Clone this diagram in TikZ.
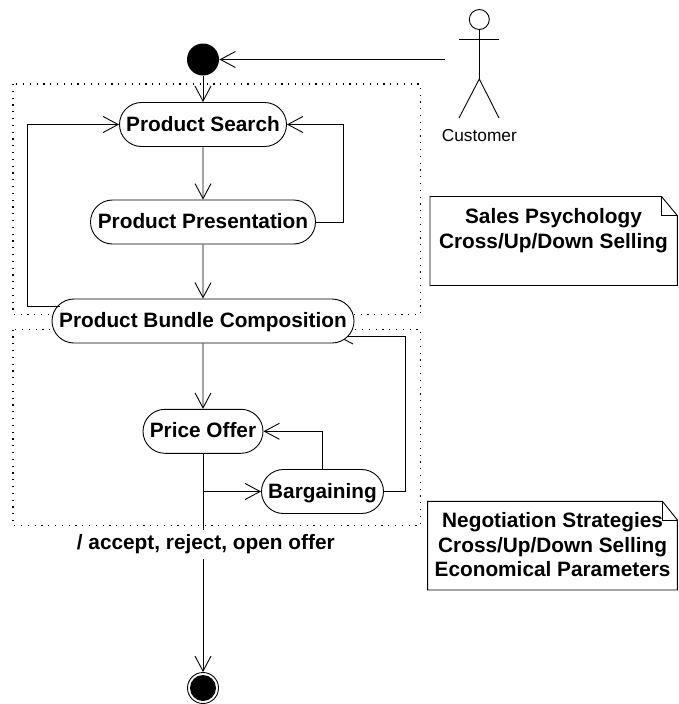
\documentclass[tikz,border=0pt]{standalone}
\usepackage{fontspec}
\setmainfont{Liberation Sans}
\usetikzlibrary{arrows.meta, shapes.misc}
\tikzset{
	activity/.style = {draw, fill = white, rounded rectangle, font = \fontsize{20.8}{24}\selectfont\bfseries, minimum height = 44pt, text height = 16.3pt, text depth = 3.3pt, inner xsep = 0pt, inner ysep = 0pt},
	note/.style = {align = center, font = \fontsize{20.8}{24.5}\selectfont\bfseries, inner sep = 0pt},
	flow/.style = {-{Straight Barb[length = 15pt, width = 16pt]}},
	group/.style = {line width = 1.2pt, dash pattern = on 1.2pt off 5.6pt}
}
\begin{document}
\begin{tikzpicture}[x = 1pt, y = -1pt, line width = 0.9pt]
	\useasboundingbox (0, 0) rectangle (678, 704);
	% groups
	\draw[group] (13, 84) rectangle (420.5, 314.5);
	\draw[group] (13, 329.5) rectangle (420.5, 525.5);
	% activities
	\node[activity, minimum width = 167pt] (search) at (203, 124.5) {Product Search};
	\node[activity, minimum width = 225pt] (presentation) at (203, 222) {Product Presentation};
	\node[activity, minimum width = 120pt] (price) at (203, 431.3) {Price Offer};
	\node[activity, minimum width = 122pt] (bargaining) at (322.5, 491.5) {Bargaining};
	% start and end
	\node[circle, fill = black, minimum size = 32pt, inner sep = 0pt] (start) at (203, 59.5) {};
	\node[circle, draw, minimum size = 31pt, inner sep = 0pt] (finish) at (203, 688) {};
	\node[circle, fill = black, minimum size = 26pt, inner sep = 0pt] (finishdot) at (203, 688) {};
	% actor
	\node[circle, draw, minimum size = 20pt, inner sep = 0pt] (head) at (479.3, 19.5) {};
	\coordinate (hip) at (479.3, 79);
	\coordinate (armleft) at (459, 39);
	\coordinate (armright) at (499, 39);
	\coordinate (legleft) at (459, 118);
	\coordinate (legright) at (499, 118);
	\coordinate (actorhand) at (445, 59.5);
	\draw (head) -- (hip);
	\draw (armleft) -- (armright);
	\draw (legleft) -- (hip) -- (legright);
	\node[font = \fontsize{17.3}{20}\selectfont] (customer) at (479.3, 135.5) {Customer};
	% the arrow tip into the bundle is partly covered by the node
	\coordinate (bundlein) at (337, 336);
	\draw[flow] (bargaining.east) -- (405.6, 491.5) |- (bundlein);
	\node[activity, minimum width = 302pt] (bundle) at (203, 321) {Product Bundle Composition};
	% flows
	\draw[flow] (actorhand) -- (start);
	\draw[flow] (start) -- (search);
	\draw[flow] (search) -- (presentation);
	\draw[flow] (presentation) -- (bundle);
	\draw[flow] (presentation.east) -- ++(27, 0) |- (search.east);
	\coordinate (bundleout) at (60, 306);
	\draw[flow] (bundleout) -- (27.5, 306) |- (search.west);
	\draw[flow] (bundle) -- (price);
	\draw[flow] (price.south) -- (finish.north);
	\draw[flow] (203, 491.5) -- (bargaining.west);
	\draw[flow] (bargaining.north) |- (price.east);
	\node[fill = white, font = \fontsize{20.8}{24}\selectfont\bfseries, minimum height = 29pt, inner ysep = 0pt] (outcome) at (205.8, 544) {/ accept, reject, open offer};
	% notes
	\draw[fill = white] (430, 196.5) -- (661.5, 196.5) -- (677.4, 215.7) -- (677.4, 285.5) -- (430, 285.5) -- cycle;
	\draw (661.5, 196.5) -- (661.5, 215.7) -- (677.4, 215.7);
	\node[note] (salesnote) at (553.5, 230.5) {Sales Psychology\\Cross/Up/Down Selling};
	\draw[fill = white] (427.6, 501.3) -- (662.4, 501.3) -- (677.4, 520) -- (677.4, 590) -- (427.6, 590) -- cycle;
	\draw (662.4, 501.3) -- (662.4, 520) -- (677.4, 520);
	\node[note] (negotiationnote) at (552.6, 545) {Negotiation Strategies\\Cross/Up/Down Selling\\Economical Parameters};
\end{tikzpicture}
\end{document}
